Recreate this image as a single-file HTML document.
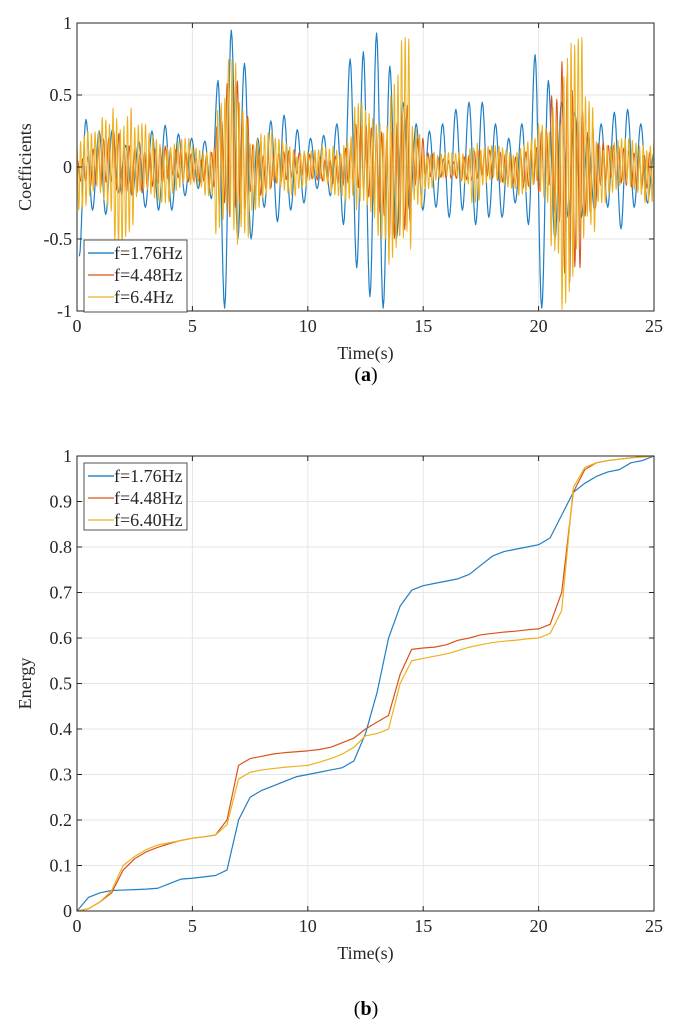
<!DOCTYPE html>
<html><head><meta charset="utf-8">
<style>
body{margin:0;background:#fff;}
svg{display:block;font-family:"Liberation Serif",serif;}
</style></head>
<body>
<svg id="fig" width="681" height="1027" viewBox="0 0 681 1027"></svg>
<script>
// ---- Panel (a) data: signed half-cycle extrema of 1.76 Hz coefficient ----
const blueExtrema = [-0.62,0.33,-0.3,0.25,-0.33,0.26,-0.18,0.15,-0.2,0.18,-0.28,0.25,-0.3,0.29,-0.3,0.23,-0.2,0.2,-0.15,0.18,-0.22,
0.6,-0.98,0.95,-0.5,0.72,-0.5,0.2,-0.28,0.32,-0.38,0.36,-0.3,0.26,-0.25,0.2,-0.15,0.22,-0.2,
0.3,-0.4,0.75,-0.7,0.8,-0.9,0.93,-0.98,0.7,-0.5,0.45,-0.3,
0.3,-0.3,0.25,-0.28,0.3,-0.35,0.4,-0.3,0.45,-0.4,0.45,-0.35,0.3,-0.35,0.2,-0.25,
0.3,-0.4,0.78,-0.98,0.6,-0.5,0.45,-0.35,0.38,-0.35,0.22,-0.3,0.3,-0.28,0.38,-0.43,0.4,-0.28,0.3,-0.25,0.1];
// amplitude envelopes (per 0.5 s) for 4.48 Hz and 6.4 Hz coefficients
const orangeEnv = [0.1,0.15,0.2,0.25,0.2,0.18,0.15,0.15,0.12,0.12,0.1,0.15,0.35,0.6,0.4,0.2,0.15,0.12,0.12,0.1,0.1,0.1,0.12,0.15,0.3,0.3,0.35,0.5,0.5,0.2,0.1,0.08,0.08,0.1,0.12,0.12,0.12,0.12,0.15,0.15,0.25,0.5,0.85,0.7,0.35,0.18,0.15,0.15,0.15,0.15];
const yellowEnv = [0.3,0.25,0.35,0.55,0.5,0.3,0.25,0.25,0.2,0.2,0.15,0.2,0.5,0.75,0.5,0.3,0.25,0.2,0.2,0.15,0.12,0.15,0.2,0.25,0.45,0.4,0.5,0.7,0.9,0.3,0.15,0.1,0.1,0.12,0.25,0.15,0.15,0.15,0.2,0.2,0.3,0.6,1.0,0.9,0.5,0.25,0.2,0.2,0.2,0.25];
// ---- Panel (b) data: cumulative energy, t = 0..25 step 0.5 ----
const energyTimes = Array.from({length:51},(_,i)=>i*0.5);
const energyBlue = [0.0,0.03,0.04,0.045,0.046,0.047,0.048,0.05,0.06,0.07,0.072,0.075,0.078,0.09,0.2,0.25,0.265,0.275,0.285,0.295,0.3,0.305,0.31,0.315,0.33,0.39,0.48,0.6,0.67,0.705,0.715,0.72,0.725,0.73,0.74,0.76,0.78,0.79,0.795,0.8,0.805,0.82,0.87,0.92,0.94,0.955,0.965,0.97,0.985,0.99,1];
const energyOrange = [0,0.005,0.02,0.04,0.09,0.115,0.13,0.14,0.148,0.155,0.16,0.163,0.167,0.2,0.32,0.335,0.34,0.345,0.348,0.35,0.352,0.355,0.36,0.37,0.38,0.4,0.415,0.43,0.52,0.575,0.578,0.58,0.585,0.595,0.6,0.607,0.61,0.613,0.615,0.618,0.62,0.63,0.7,0.92,0.97,0.985,0.99,0.993,0.996,0.998,1];
const energyYellow = [0,0.005,0.02,0.045,0.1,0.12,0.135,0.145,0.15,0.155,0.16,0.163,0.167,0.19,0.29,0.305,0.31,0.313,0.316,0.318,0.32,0.327,0.335,0.345,0.36,0.385,0.39,0.4,0.5,0.55,0.555,0.56,0.565,0.572,0.58,0.585,0.59,0.593,0.595,0.598,0.6,0.61,0.66,0.93,0.975,0.985,0.99,0.993,0.996,0.998,1];
const xTicks=[0,5,10,15,20,25];
const yTicksA=[1,0.5,0,-0.5,-1];
const yTicksB=[1,0.9,0.8,0.7,0.6,0.5,0.4,0.3,0.2,0.1,0];

const NS="http://www.w3.org/2000/svg";
const svg=document.getElementById('fig');
function mk(tag,attrs,parent){const e=document.createElementNS(NS,tag);for(const k in attrs)e.setAttribute(k,attrs[k]);(parent||svg).appendChild(e);return e;}
const C={b:'#0072BD',o:'#D95319',y:'#EDB120'};
const L=77,R=654;
function xs(t){return L+(t/25)*(R-L);}
const A={top:23,bot:311,min:-1,max:1};
const B={top:456,bot:911,min:0,max:1};
function ys(P,v){return P.bot-(v-P.min)/(P.max-P.min)*(P.bot-P.top);}

function axes(P,yt,name){
  const g=mk('g',{});
  
  
  mk('rect',{x:L,y:P.top,width:R-L,height:P.bot-P.top,fill:'#fff'},g);
  xTicks.forEach(t=>{const l=mk('line',{x1:xs(t),x2:xs(t),y1:P.top,y2:P.bot,stroke:'#e6e6e6','stroke-width':1},g);
    });
  yt.forEach(v=>{const l=mk('line',{x1:L,x2:R,y1:ys(P,v),y2:ys(P,v),stroke:'#e6e6e6','stroke-width':1},g);
    });
  return g;
}
function frame(P,yt,ylabel,fmt){
  const g=mk('g',{});
  
  
  mk('rect',{x:L,y:P.top,width:R-L,height:P.bot-P.top,fill:'none',stroke:'#262626','stroke-width':1},g);
  xTicks.forEach(t=>{
    mk('line',{x1:xs(t),x2:xs(t),y1:P.bot,y2:P.bot-5,stroke:'#262626'},g);
    mk('line',{x1:xs(t),x2:xs(t),y1:P.top,y2:P.top+5,stroke:'#262626'},g);
    const tx=mk('text',{x:xs(t),y:P.bot+21,'text-anchor':'middle','font-size':18,fill:'#262626'},g);
    tx.textContent=t;
    
  });
  yt.forEach(v=>{
    mk('line',{x1:L,x2:L+5,y1:ys(P,v),y2:ys(P,v),stroke:'#262626'},g);
    mk('line',{x1:R,x2:R-5,y1:ys(P,v),y2:ys(P,v),stroke:'#262626'},g);
    const tx=mk('text',{x:L-5,y:ys(P,v)+6,'text-anchor':'end','font-size':18,fill:'#262626'},g);
    tx.textContent=fmt(v);
    
  });
  const xl=mk('text',{x:(L+R)/2,y:P.bot+48,'text-anchor':'middle','font-size':18,fill:'#262626'},g);
  xl.textContent='Time(s)';
  
  const yl=mk('text',{x:0,y:0,'text-anchor':'middle','font-size':18,fill:'#262626',transform:`translate(${L-46},${(P.top+P.bot)/2}) rotate(-90)`},g);
  yl.textContent=ylabel;
  
}
function legend(x,y,h,labels){
  const g=mk('g',{});
  
  
  mk('rect',{x:x,y:y,width:103,height:h,fill:'#fff',stroke:'#262626','stroke-width':0.8},g);
  const cols=[C.b,C.o,C.y];
  labels.forEach((s,i)=>{
    const yy=y+13+i*22;
    const e=mk('g',{},g);
    
    
    mk('line',{x1:x+4,x2:x+30,y1:yy,y2:yy,stroke:cols[i],'stroke-width':1.3},e);
    const t=mk('text',{x:x+30,y:yy+6,'font-size':18,fill:'#262626'},e);
    t.textContent=s;
  });
}
function poly(pts,col,name,w){
  const p=mk('polyline',{points:pts.map(q=>q[0].toFixed(2)+','+q[1].toFixed(2)).join(' '),fill:'none',stroke:col,'stroke-width':w||1.1,'stroke-linejoin':'round'});
  
  
}
function fromExtrema(times,vals){
  const pts=[];
  for(let i=0;i<vals.length-1;i++){
    for(let k=0;k<8;k++){const f=k/8;const w=(1-Math.cos(Math.PI*f))/2;
      pts.push([xs(times[i]+(times[i+1]-times[i])*f),ys(A,vals[i]+(vals[i+1]-vals[i])*w)]);}
  }
  pts.push([xs(times[times.length-1]),ys(A,vals[vals.length-1])]);
  return pts;
}
function envSignal(env,freq,phase){
  const half=0.5/freq;const times=[],vals=[];let s=1;
  for(let t=phase;t<=25;t+=half){
    const idx=Math.min(env.length-1,Math.floor(t/0.5));
    const j=Math.floor(t/half);
    const mod=0.45+0.55*Math.abs(Math.sin(j*1.7));
    times.push(t);vals.push(s*env[idx]*mod);s=-s;
  }
  return fromExtrema(times,vals);
}

// Panel (a)
axes(A,yTicksA,'coefficients-plot');
const bt=blueExtrema.map((_,i)=>0.1+i*(24.9/(blueExtrema.length-1)));
poly(fromExtrema(bt,blueExtrema),'#1f7fc6','series-f1.76hz',1.2);
poly(envSignal(orangeEnv,4.48,0.03),C.o,'series-f4.48hz',1.0);
poly(envSignal(yellowEnv,6.4,0.0),C.y,'series-f6.4hz',1.0);
frame(A,yTicksA,'Coefficients',v=>String(v));
legend(84,240,72,['f=1.76Hz','f=4.48Hz','f=6.4Hz']);
const ca=mk('text',{x:366,y:381,'text-anchor':'middle','font-size':20,fill:'#000'});
ca.innerHTML='(<tspan font-weight="bold">a</tspan>)';


// Panel (b)
axes(B,yTicksB,'energy-plot');
poly(energyTimes.map((t,i)=>[xs(t),ys(B,energyBlue[i])]),'#1f7fc6','energy-f1.76hz',1.2);
poly(energyTimes.map((t,i)=>[xs(t),ys(B,energyOrange[i])]),C.o,'energy-f4.48hz',1.2);
poly(energyTimes.map((t,i)=>[xs(t),ys(B,energyYellow[i])]),C.y,'energy-f6.40hz',1.2);
frame(B,yTicksB,'Energy',v=>(v===0||v===1)?String(v):v.toFixed(1));
legend(84,463,67,['f=1.76Hz','f=4.48Hz','f=6.40Hz']);
const cb=mk('text',{x:366,y:1015,'text-anchor':'middle','font-size':20,fill:'#000'});
cb.innerHTML='(<tspan font-weight="bold">b</tspan>)';

</script>
</body></html>
